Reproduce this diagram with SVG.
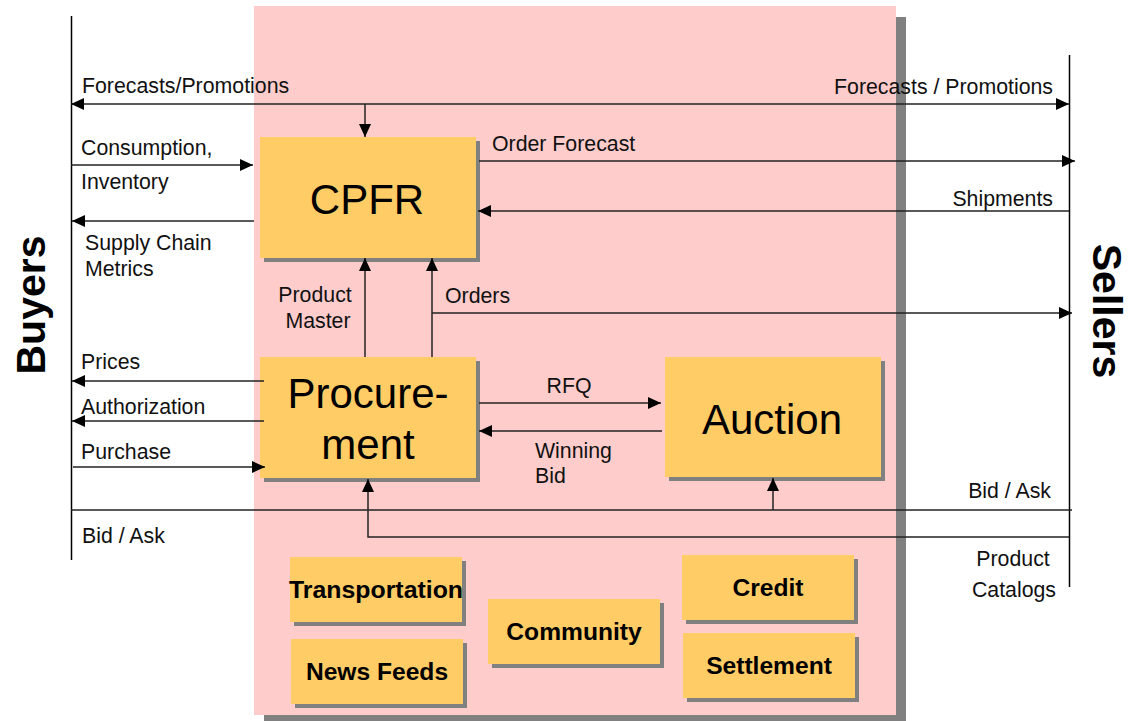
<svg xmlns="http://www.w3.org/2000/svg" width="1128" height="721" viewBox="0 0 1128 721">
  <style>
    .lbl { font-family: "Liberation Sans", Arial, sans-serif; font-size: 21.3px; fill: #111; }
    .big { font-family: "Liberation Sans", Arial, sans-serif; font-size: 42px; fill: #000; text-anchor: middle; }
    .small { font-family: "Liberation Sans", Arial, sans-serif; font-size: 24.6px; font-weight: bold; fill: #000; text-anchor: middle; }
    .side { font-family: "Liberation Sans", Arial, sans-serif; font-size: 41px; font-weight: bold; fill: #000; text-anchor: middle; }
    .box { fill: #FFCC66; }
    .shadow { fill: #808080; }
    .line { fill: none; stroke: #222; stroke-width: 1.5; }
    .arrow { marker-end: url(#head); }
  </style>
  <defs>
    <marker id="head" markerUnits="userSpaceOnUse" markerWidth="14" markerHeight="12" refX="13" refY="6" orient="auto-start-reverse">
      <path d="M0,0 L13,6 L0,12 Z" fill="#000"/>
    </marker>
  </defs>

  <rect width="1128" height="721" fill="#fff"/>

  <!-- exchange backdrop -->
  <g id="exchange">
    <rect class="shadow" x="264" y="17" width="642" height="704"/>
    <rect x="254" y="6" width="642" height="709" fill="#FFCCCC"/>
  </g>

  <!-- party rails -->
  <g id="buyers">
    <line x1="71.5" y1="16" x2="71.5" y2="560" stroke="#000" stroke-width="1.5"/>
    <text class="side" transform="translate(45,305) rotate(-90)">Buyers</text>
  </g>
  <g id="sellers">
    <line x1="1069.5" y1="55" x2="1069.5" y2="587" stroke="#000" stroke-width="1.5"/>
    <text class="side" transform="translate(1093,311) rotate(90)">Sellers</text>
  </g>

  <!-- main services -->
  <g id="cpfr">
    <rect class="shadow" x="264" y="141" width="216" height="121"/>
    <rect class="box" x="260" y="137" width="216" height="121"/>
    <text class="big" x="367" y="214">CPFR</text>
  </g>
  <g id="procurement">
    <rect class="shadow" x="264" y="361" width="216" height="121"/>
    <rect class="box" x="260" y="357" width="216" height="121"/>
    <text class="big" x="368" y="408">Procure-</text>
    <text class="big" x="368" y="459">ment</text>
  </g>
  <g id="auction">
    <rect class="shadow" x="669" y="361" width="216" height="120"/>
    <rect class="box" x="665" y="357" width="216" height="120"/>
    <text class="big" x="772" y="434">Auction</text>
  </g>

  <!-- supporting services -->
  <g id="transportation">
    <rect class="shadow" x="294" y="561" width="172" height="65"/>
    <rect class="box" x="290" y="557" width="172" height="65"/>
    <text class="small" x="376" y="598" textLength="174" lengthAdjust="spacingAndGlyphs">Transportation</text>
  </g>
  <g id="news-feeds">
    <rect class="shadow" x="295" y="643" width="172" height="65"/>
    <rect class="box" x="291" y="639" width="172" height="65"/>
    <text class="small" x="377" y="680">News Feeds</text>
  </g>
  <g id="community">
    <rect class="shadow" x="492" y="603" width="172" height="65"/>
    <rect class="box" x="488" y="599" width="172" height="65"/>
    <text class="small" x="574" y="640">Community</text>
  </g>
  <g id="credit">
    <rect class="shadow" x="686" y="559" width="172" height="65"/>
    <rect class="box" x="682" y="555" width="172" height="65"/>
    <text class="small" x="768" y="596">Credit</text>
  </g>
  <g id="settlement">
    <rect class="shadow" x="687" y="637" width="172" height="65"/>
    <rect class="box" x="683" y="633" width="172" height="65"/>
    <text class="small" x="769" y="674">Settlement</text>
  </g>

  <!-- flows -->
  <g id="connectors">
    <path class="line" d="M71,104 H1069" marker-start="url(#head)" marker-end="url(#head)"/>
    <path class="line arrow" d="M365,104 V137"/>
    <path class="line arrow" d="M71,165 H253"/>
    <path class="line arrow" d="M254,221 H72"/>
    <path class="line arrow" d="M479,161 H1075"/>
    <path class="line arrow" d="M1069,211 H478"/>
    <path class="line arrow" d="M365,357 V258"/>
    <path class="line arrow" d="M432,357 V258"/>
    <path class="line arrow" d="M432,313 H1072"/>
    <path class="line arrow" d="M264,381 H72"/>
    <path class="line arrow" d="M264,421 H72"/>
    <path class="line arrow" d="M73,467 H265"/>
    <path class="line" d="M71,510 H1072"/>
    <path class="line arrow" d="M773,510 V478"/>
    <path class="line arrow" d="M1069,537 H368 V479"/>
    <path class="line arrow" d="M479,403 H661"/>
    <path class="line arrow" d="M662,431 H479"/>
  </g>

  <!-- flow labels -->
  <g id="labels">
    <text class="lbl" x="82" y="93">Forecasts/Promotions</text>
    <text class="lbl" x="1053" y="94" text-anchor="end">Forecasts / Promotions</text>
    <text class="lbl" x="81" y="155">Consumption,</text>
    <text class="lbl" x="81" y="189">Inventory</text>
    <text class="lbl" x="85" y="250">Supply Chain</text>
    <text class="lbl" x="85" y="276">Metrics</text>
    <text class="lbl" x="492" y="151">Order Forecast</text>
    <text class="lbl" x="1053" y="206" text-anchor="end">Shipments</text>
    <text class="lbl" x="315" y="302" text-anchor="middle">Product</text>
    <text class="lbl" x="318" y="328" text-anchor="middle">Master</text>
    <text class="lbl" x="445" y="303">Orders</text>
    <text class="lbl" x="81" y="369">Prices</text>
    <text class="lbl" x="81" y="414">Authorization</text>
    <text class="lbl" x="81" y="459">Purchase</text>
    <text class="lbl" x="82" y="543">Bid / Ask</text>
    <text class="lbl" x="1051" y="498" text-anchor="end">Bid / Ask</text>
    <text class="lbl" x="1013" y="566" text-anchor="middle">Product</text>
    <text class="lbl" x="1014" y="597" text-anchor="middle">Catalogs</text>
    <text class="lbl" x="569" y="393" text-anchor="middle">RFQ</text>
    <text class="lbl" x="535" y="458">Winning</text>
    <text class="lbl" x="535" y="483">Bid</text>
  </g>
</svg>
